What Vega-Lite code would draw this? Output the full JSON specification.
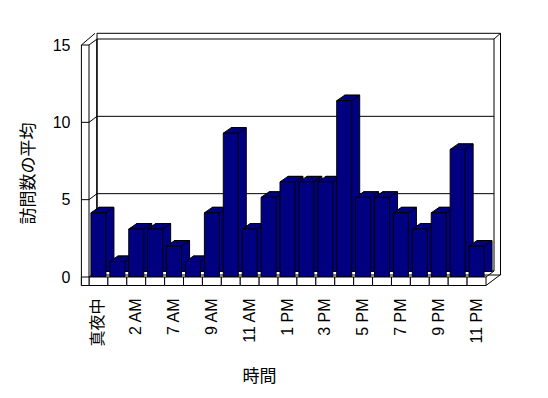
{
  "$schema": "https://vega.github.io/schema/vega-lite/v6.json",
  "width": 397,
  "height": 232,
  "autosize": {"type": "none"},
  "padding": {"left": 89, "top": 45, "right": 62, "bottom": 121},
  "background": "white",
  "config": {"view": {"stroke": null}},
  "resolve": {"scale": {"x": "independent"}},
  "layer": [
    {
      "data": {"values": [{}]},
      "layer": [
        {
          "mark": {"type": "rect", "fill": "white", "stroke": "black", "strokeWidth": 1, "xOffset": 8, "x2Offset": 14.5, "yOffset": -2, "y2Offset": -11.7},
          "encoding": {
            "x": {"datum": 0, "type": "quantitative", "scale": {"domain": [0, 1]}, "axis": null},
            "x2": {"datum": 1},
            "y": {"datum": 0, "type": "quantitative"},
            "y2": {"datum": 15}
          }
        },
        {
          "mark": {"type": "rect", "fill": "white", "stroke": "black", "strokeWidth": 1, "xOffset": 8, "x2Offset": 8, "yOffset": -6, "y2Offset": -6},
          "encoding": {
            "x": {"datum": 0, "type": "quantitative", "scale": {"domain": [0, 1]}, "axis": null},
            "x2": {"datum": 1},
            "y": {"datum": 0, "type": "quantitative"},
            "y2": {"datum": 15}
          }
        },
        {
          "mark": {"type": "rule", "stroke": "black", "strokeWidth": 1, "xOffset": 8, "x2Offset": 14.5, "yOffset": -6, "y2Offset": -11.7},
          "encoding": {
            "x": {"datum": 1, "type": "quantitative", "scale": {"domain": [0, 1]}, "axis": null},
            "x2": {"datum": 1},
            "y": {"datum": 15, "type": "quantitative"},
            "y2": {"datum": 15}
          }
        },
        {
          "mark": {"type": "rule", "stroke": "black", "strokeWidth": 1, "x2Offset": 8, "y2Offset": -6},
          "encoding": {
            "x": {"datum": 1, "type": "quantitative", "scale": {"domain": [0, 1]}, "axis": null},
            "x2": {"datum": 1},
            "y": {"datum": 0, "type": "quantitative"},
            "y2": {"datum": 0}
          }
        },
        {
          "data": {"values": [{"v": 5}, {"v": 10}]},
          "mark": {"type": "rule", "stroke": "black", "strokeWidth": 1, "xOffset": 8, "x2Offset": 8, "yOffset": -6},
          "encoding": {
            "x": {"datum": 0, "type": "quantitative", "scale": {"domain": [0, 1]}, "axis": null},
            "x2": {"datum": 1},
            "y": {"field": "v", "type": "quantitative"}
          }
        },
        {
          "mark": {"type": "rule", "stroke": "black", "strokeWidth": 1, "xOffset": -7.6, "yOffset": 8.5},
          "encoding": {
            "x": {"datum": 0, "type": "quantitative", "scale": {"domain": [0, 1]}, "axis": null},
            "y": {"datum": 0, "type": "quantitative"},
            "y2": {"datum": 15}
          }
        },
        {
          "mark": {"type": "rule", "stroke": "black", "strokeWidth": 1},
          "encoding": {
            "x": {"datum": 0, "type": "quantitative", "scale": {"domain": [0, 1]}, "axis": null},
            "y": {"datum": 0, "type": "quantitative"},
            "y2": {"datum": 15}
          }
        },
        {
          "mark": {"type": "rule", "stroke": "black", "strokeWidth": 1, "xOffset": 8, "yOffset": -6, "y2Offset": -6},
          "encoding": {
            "x": {"datum": 0, "type": "quantitative", "scale": {"domain": [0, 1]}, "axis": null},
            "y": {"datum": 0, "type": "quantitative"},
            "y2": {"datum": 15}
          }
        },
        {
          "data": {"values": [{"v": 5}, {"v": 10}, {"v": 15}]},
          "mark": {"type": "rule", "stroke": "black", "strokeWidth": 1, "xOffset": -7.6, "x2Offset": 0},
          "encoding": {
            "x": {"datum": 0, "type": "quantitative", "scale": {"domain": [0, 1]}, "axis": null},
            "x2": {"datum": 0},
            "y": {"field": "v", "type": "quantitative"},
            "y2": {"field": "v"}
          }
        },
        {
          "data": {"values": [{"v": 0}, {"v": 5}, {"v": 10}, {"v": 15}]},
          "mark": {"type": "rule", "stroke": "black", "strokeWidth": 1, "x2Offset": 8, "y2Offset": -6},
          "encoding": {
            "x": {"datum": 0, "type": "quantitative", "scale": {"domain": [0, 1]}, "axis": null},
            "x2": {"datum": 0},
            "y": {"field": "v", "type": "quantitative"},
            "y2": {"field": "v"}
          }
        },
        {
          "mark": {"type": "rule", "stroke": "black", "strokeWidth": 1, "xOffset": -7.6, "x2Offset": 6, "y2Offset": -11.7},
          "encoding": {
            "x": {"datum": 0, "type": "quantitative", "scale": {"domain": [0, 1]}, "axis": null},
            "x2": {"datum": 0},
            "y": {"datum": 15, "type": "quantitative"},
            "y2": {"datum": 15}
          }
        }
      ]
    },
    {
      "data": {
        "values": [
          {"hour": "真夜中", "visits": 4.15},
          {"hour": "1 AM", "visits": 1.0},
          {"hour": "2 AM", "visits": 3.1},
          {"hour": "6 AM", "visits": 3.1},
          {"hour": "7 AM", "visits": 2.0},
          {"hour": "8 AM", "visits": 1.0},
          {"hour": "9 AM", "visits": 4.15},
          {"hour": "10 AM", "visits": 9.3},
          {"hour": "11 AM", "visits": 3.1},
          {"hour": "正午", "visits": 5.15},
          {"hour": "1 PM", "visits": 6.15},
          {"hour": "2 PM", "visits": 6.15},
          {"hour": "3 PM", "visits": 6.15},
          {"hour": "4 PM", "visits": 11.4},
          {"hour": "5 PM", "visits": 5.15},
          {"hour": "6 PM", "visits": 5.15},
          {"hour": "7 PM", "visits": 4.15},
          {"hour": "8 PM", "visits": 3.1},
          {"hour": "9 PM", "visits": 4.15},
          {"hour": "10 PM", "visits": 8.25},
          {"hour": "11 PM", "visits": 2.0}
        ]
      },
      "layer": [
        {
          "mark": {"type": "bar", "fill": "#000080", "stroke": "black", "strokeWidth": 1, "width": 15, "xOffset": 8, "yOffset": -5.5, "y2Offset": -5.5},
          "encoding": {
            "x": {
              "field": "hour", "type": "nominal", "sort": null,
              "scale": {"type": "band", "paddingInner": 0, "paddingOuter": 0},
              "axis": {
                "zindex": 2,
                "values": ["真夜中", "2 AM", "7 AM", "9 AM", "11 AM", "1 PM", "3 PM", "5 PM", "7 PM", "9 PM", "11 PM"],
                "labelAngle": -90, "labelPadding": 21, "ticks": false, "domain": false, "grid": false,
                "labelFont": "Liberation Sans, Noto Sans CJK JP", "labelFontSize": 16, "labelColor": "black",
                "title": "時間", "titleFont": "Noto Sans CJK JP", "titleFontSize": 17, "titleFontWeight": "normal", "titleColor": "black",
                "titleX": 170, "titleY": 99, "titleBaseline": "middle", "titleAlign": "center"
              }
            },
            "y": {
              "field": "visits", "type": "quantitative",
              "scale": {"domain": [0, 15], "nice": false},
              "axis": {
                "zindex": 2,
                "values": [0, 5, 10, 15], "domain": false, "ticks": false, "grid": false, "labelPadding": 19,
                "labelFont": "Liberation Sans", "labelFontSize": 16, "labelColor": "black",
                "title": "訪問数の平均", "titleFont": "Noto Sans CJK JP", "titleFontSize": 17, "titleFontWeight": "normal", "titleColor": "black",
                "titleX": -61, "titleY": 128, "titleAngle": -90, "titleBaseline": "middle", "titleAlign": "center"
              }
            }
          }
        },
        {
          "mark": {"type": "point", "shape": "M -7.5 0 L 7.5 0 L 15.5 -5.5 L 0.5 -5.5 Z", "size": 4, "filled": true, "fill": "#000080", "stroke": "black", "strokeWidth": 1, "opacity": 1},
          "encoding": {
            "x": {"field": "hour", "type": "nominal", "sort": null, "scale": {"type": "band", "paddingInner": 0, "paddingOuter": 0}},
            "y": {"field": "visits", "type": "quantitative"}
          }
        },
        {
          "mark": {"type": "bar", "fill": "#000080", "stroke": "black", "strokeWidth": 1, "width": 15},
          "encoding": {
            "x": {"field": "hour", "type": "nominal", "sort": null, "scale": {"type": "band", "paddingInner": 0, "paddingOuter": 0}},
            "y": {"field": "visits", "type": "quantitative"}
          }
        },
        {
          "mark": {"type": "rect", "fill": "white", "stroke": "black", "strokeWidth": 1, "y2Offset": 8.5},
          "encoding": {
            "x": {"field": "hour", "type": "nominal", "sort": null, "scale": {"type": "band", "paddingInner": 0, "paddingOuter": 0}},
            "y": {"datum": 0, "type": "quantitative"},
            "y2": {"datum": 0}
          }
        }
      ]
    },
    {
      "data": {"values": [{}]},
      "layer": [
        {
          "mark": {"type": "rect", "fill": "white", "stroke": "black", "strokeWidth": 1, "xOffset": -7.6, "y2Offset": 8.5},
          "encoding": {
            "x": {"datum": 0, "type": "quantitative", "scale": {"domain": [0, 1]}, "axis": null},
            "x2": {"datum": 0},
            "y": {"datum": 0, "type": "quantitative"},
            "y2": {"datum": 0}
          }
        },
        {
          "mark": {"type": "rule", "stroke": "black", "strokeWidth": 1, "x2Offset": 14, "yOffset": 8.5, "y2Offset": -2},
          "encoding": {
            "x": {"datum": 1, "type": "quantitative", "scale": {"domain": [0, 1]}, "axis": null},
            "x2": {"datum": 1},
            "y": {"datum": 0, "type": "quantitative"},
            "y2": {"datum": 0}
          }
        }
      ]
    }
  ]
}
